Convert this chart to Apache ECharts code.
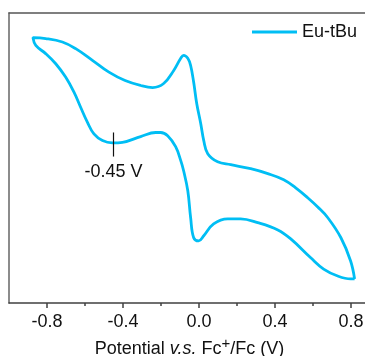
<!DOCTYPE html>
<html>
<head>
<meta charset="utf-8">
<script src="https://cdn.jsdelivr.net/npm/echarts@6/dist/echarts.min.js"></script>
<style>
  html, body { margin: 0; padding: 0; background: #fff; }
  #chart { width: 365px; height: 356px; }
</style>
</head>
<body>
<div id="chart"></div>
<script>
// Cyclic voltammogram of Eu-tBu (potential vs Fc+/Fc, current in arbitrary units).
// The loop starts at the positive vertex, sweeps to the negative vertex and returns.
const potential = [
  0.819, 0.798, 0.730, 0.656, 0.588, 0.483, 0.415, 0.309, 0.219, 0.151,
  0.077, 0.025, -0.002, -0.028, -0.044, -0.059, -0.081, -0.096, -0.123, -0.165,
  -0.202, -0.228, -0.307, -0.403, -0.456, -0.508, -0.553, -0.587, -0.623, -0.658,
  -0.702, -0.754, -0.807, -0.859, -0.874,
  -0.807, -0.719, -0.649, -0.561, -0.474, -0.389, -0.307, -0.244, -0.186, -0.133,
  -0.096, -0.081, -0.059, -0.044, -0.028, -0.012, 0.009, 0.025, 0.046, 0.098,
  0.167, 0.272, 0.362, 0.446, 0.509, 0.572, 0.625, 0.678, 0.747, 0.798, 0.819
];
const current = [
  -4.17, -4.17, -4.07, -3.83, -3.44, -2.79, -2.48, -2.23, -2.10, -2.10,
  -2.27, -2.68, -2.86, -2.75, -2.06, -1.13, -0.44, -0.09, 0.39, 0.77,
  0.88, 0.88, 0.74, 0.54, 0.52, 0.60, 0.83, 1.23, 1.75, 2.27,
  2.79, 3.25, 3.60, 3.88, 4.15,
  4.12, 4.00, 3.77, 3.37, 2.96, 2.67, 2.50, 2.43, 2.57, 3.02,
  3.44, 3.54, 3.44, 3.19, 2.61, 1.88, 1.19, 0.60, 0.15, -0.13,
  -0.23, -0.37, -0.54, -0.75, -1.03, -1.37, -1.69, -2.06, -2.75, -3.55, -4.17
];
const seriesName = 'Eu-tBu';
const majorTicks = [-0.8, -0.4, 0.0, 0.4, 0.8];
const minorTicks = [-0.6, -0.2, 0.2, 0.6];
const peakPotential = -0.45;
const peakMarkerSpan = [0.88, 0.05];

const FONT = '"Liberation Sans", Arial, sans-serif';
const LINE_COLOR = '#00bef4';
const AXIS_COLOR = '#404040';

const cvData = potential.map((v, i) => [v, current[i]]);

const chart = echarts.init(document.getElementById('chart'), null, { renderer: 'canvas' });

const baseX = { type: 'value', min: -1.0, max: 0.9, splitLine: { show: false } };

chart.setOption({
  animation: false,
  backgroundColor: '#fff',
  grid: { left: 9, top: 13, width: 361, bottom: 53, containLabel: false, outerBoundsMode: 'none' },
  legend: {
    data: [{ name: seriesName, icon: 'rect' }],
    left: 252,
    top: 23,
    padding: 0,
    itemWidth: 45,
    itemHeight: 3,
    itemGap: 0,
    itemStyle: { color: LINE_COLOR },
    textStyle: { fontFamily: FONT, fontSize: 18, color: '#111' }
  },
  xAxis: [
    Object.assign({}, baseX, {
      position: 'bottom',
      axisLine: { show: true, onZero: false, lineStyle: { color: AXIS_COLOR, width: 1.5 } },
      axisTick: { show: true, inside: false, length: 5, customValues: majorTicks,
                  lineStyle: { color: AXIS_COLOR, width: 1.5 } },
      axisLabel: { customValues: majorTicks, margin: 10, fontFamily: FONT, fontSize: 18, color: '#111',
                   formatter: v => v.toFixed(1) },
      name: '{a|Potential }{i|v.s.}{a| Fc}{s|+}{a|/Fc (V)}',
      nameLocation: 'middle',
      nameGap: 27,
      nameTextStyle: {
        rich: {
          a: { fontFamily: FONT, fontSize: 18, color: '#111', lineHeight: 22, verticalAlign: 'bottom' },
          i: { fontFamily: FONT, fontSize: 18, color: '#111', fontStyle: 'italic', lineHeight: 22, verticalAlign: 'bottom' },
          s: { fontFamily: FONT, fontSize: 15, color: '#111', lineHeight: 22, verticalAlign: 'top', padding: [0, 0, 9, 0] }
        }
      }
    }),
    Object.assign({}, baseX, {
      position: 'bottom',
      axisLine: { show: false, onZero: false },
      axisTick: { show: true, inside: false, length: 3, customValues: minorTicks,
                  lineStyle: { color: AXIS_COLOR, width: 1.5 } },
      axisLabel: { show: false }
    }),
    Object.assign({}, baseX, {
      position: 'top',
      axisLine: { show: true, onZero: false, lineStyle: { color: '#555', width: 1.5 } },
      axisTick: { show: false },
      axisLabel: { show: false }
    })
  ],
  yAxis: {
    type: 'value',
    min: -5,
    max: 5,
    axisLine: { show: true, onZero: false, lineStyle: { color: '#666', width: 1.5 } },
    axisTick: { show: false },
    axisLabel: { show: false },
    splitLine: { show: false }
  },
  series: [{
    name: seriesName,
    type: 'line',
    xAxisIndex: 0,
    data: cvData,
    symbol: 'none',
    smooth: 0.4,
    lineStyle: { color: LINE_COLOR, width: 2.8 },
    itemStyle: { color: LINE_COLOR },
    markLine: {
      silent: true,
      symbol: ['none', 'none'],
      lineStyle: { color: '#111', width: 1.2, type: 'solid' },
      label: {
        show: true,
        position: 'end',
        distance: 6,
        fontFamily: FONT,
        fontSize: 18,
        color: '#111',
        formatter: () => peakPotential.toFixed(2) + ' V'
      },
      data: [[
        { coord: [peakPotential, peakMarkerSpan[0]] },
        { coord: [peakPotential, peakMarkerSpan[1]] }
      ]]
    }
  }]
});
</script>
</body>
</html>
